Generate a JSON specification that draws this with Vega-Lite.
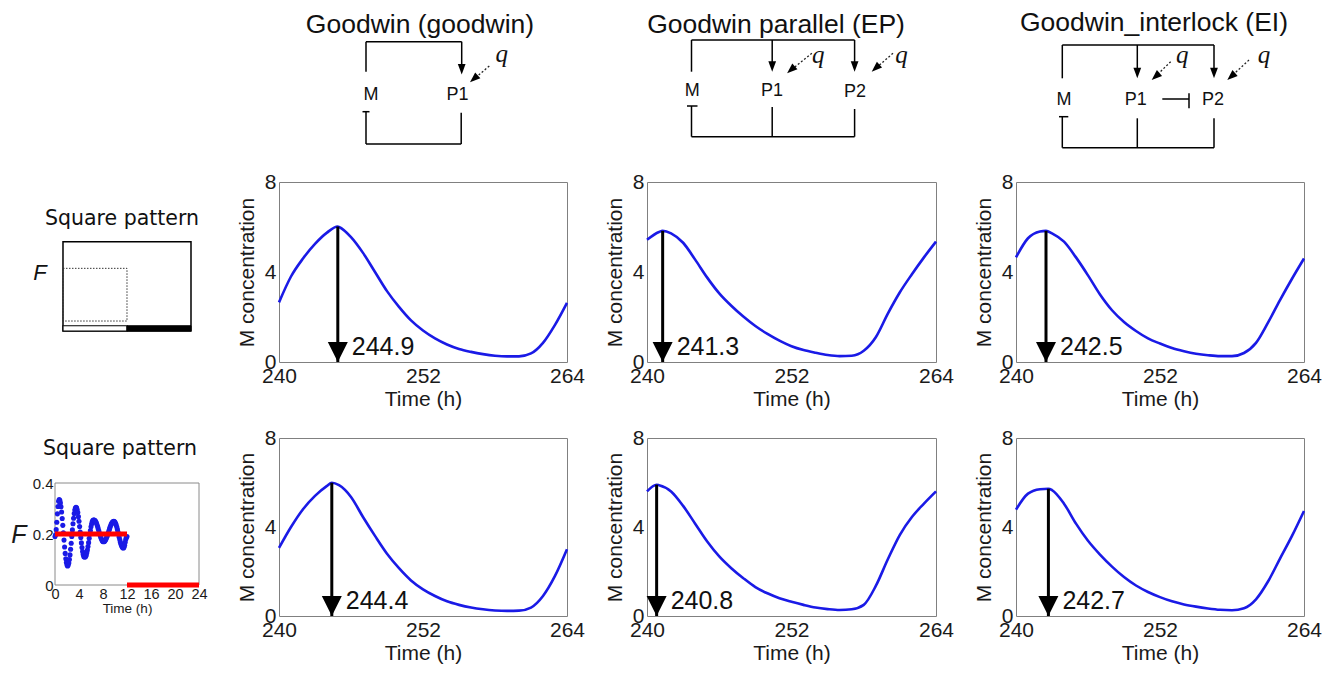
{
"$schema": "https://vega.github.io/schema/vega-lite/v6.json",
"padding": 0,
"background": "white",
"columns": 4,
"spacing": {"row": 76, "column": 80},
"bounds": "flush",
"align": "each",
"datasets": {
"curves": [
{"p":1,"t":240,"m":2.65},{"p":1,"t":241,"m":3.8},{"p":1,"t":242,"m":4.6},{"p":1,"t":243,"m":5.25},{"p":1,"t":244,"m":5.75},{"p":1,"t":244.9,"m":6.02},{"p":1,"t":245,"m":6.0},{"p":1,"t":246,"m":5.55},{"p":1,"t":247,"m":4.85},{"p":1,"t":248,"m":4.0},{"p":1,"t":249,"m":3.15},{"p":1,"t":250,"m":2.45},{"p":1,"t":251,"m":1.85},{"p":1,"t":252,"m":1.4},{"p":1,"t":253,"m":1.05},{"p":1,"t":254,"m":0.78},{"p":1,"t":255,"m":0.58},{"p":1,"t":256,"m":0.45},{"p":1,"t":257,"m":0.35},{"p":1,"t":258,"m":0.28},{"p":1,"t":259,"m":0.25},{"p":1,"t":260,"m":0.25},{"p":1,"t":261,"m":0.38},{"p":1,"t":262,"m":0.85},{"p":1,"t":263,"m":1.65},{"p":1,"t":264,"m":2.63},
{"p":2,"t":240,"m":5.43},{"p":2,"t":241,"m":5.78},{"p":2,"t":241.3,"m":5.83},{"p":2,"t":242,"m":5.72},{"p":2,"t":243,"m":5.3},{"p":2,"t":244,"m":4.55},{"p":2,"t":245,"m":3.75},{"p":2,"t":246,"m":3.05},{"p":2,"t":247,"m":2.5},{"p":2,"t":248,"m":2.02},{"p":2,"t":249,"m":1.6},{"p":2,"t":250,"m":1.25},{"p":2,"t":251,"m":0.95},{"p":2,"t":252,"m":0.7},{"p":2,"t":253,"m":0.53},{"p":2,"t":254,"m":0.41},{"p":2,"t":255,"m":0.31},{"p":2,"t":256,"m":0.26},{"p":2,"t":257,"m":0.28},{"p":2,"t":258,"m":0.5},{"p":2,"t":259,"m":1.1},{"p":2,"t":260,"m":2.15},{"p":2,"t":261,"m":3.1},{"p":2,"t":262,"m":3.9},{"p":2,"t":263,"m":4.65},{"p":2,"t":264,"m":5.35},
{"p":3,"t":240,"m":4.65},{"p":3,"t":241,"m":5.5},{"p":3,"t":242,"m":5.8},{"p":3,"t":242.5,"m":5.83},{"p":3,"t":243,"m":5.72},{"p":3,"t":244,"m":5.35},{"p":3,"t":245,"m":4.65},{"p":3,"t":246,"m":3.85},{"p":3,"t":247,"m":3.0},{"p":3,"t":248,"m":2.3},{"p":3,"t":249,"m":1.78},{"p":3,"t":250,"m":1.38},{"p":3,"t":251,"m":1.05},{"p":3,"t":252,"m":0.82},{"p":3,"t":253,"m":0.62},{"p":3,"t":254,"m":0.48},{"p":3,"t":255,"m":0.37},{"p":3,"t":256,"m":0.3},{"p":3,"t":257,"m":0.26},{"p":3,"t":258,"m":0.26},{"p":3,"t":259,"m":0.4},{"p":3,"t":260,"m":0.85},{"p":3,"t":261,"m":1.75},{"p":3,"t":262,"m":2.75},{"p":3,"t":263,"m":3.7},{"p":3,"t":264,"m":4.6},
{"p":4,"t":240,"m":3.06},{"p":4,"t":241,"m":4.0},{"p":4,"t":242,"m":4.8},{"p":4,"t":243,"m":5.4},{"p":4,"t":244,"m":5.85},{"p":4,"t":244.4,"m":5.99},{"p":4,"t":245,"m":5.88},{"p":4,"t":246,"m":5.35},{"p":4,"t":247,"m":4.45},{"p":4,"t":248,"m":3.6},{"p":4,"t":249,"m":2.8},{"p":4,"t":250,"m":2.15},{"p":4,"t":251,"m":1.6},{"p":4,"t":252,"m":1.2},{"p":4,"t":253,"m":0.9},{"p":4,"t":254,"m":0.66},{"p":4,"t":255,"m":0.5},{"p":4,"t":256,"m":0.38},{"p":4,"t":257,"m":0.3},{"p":4,"t":258,"m":0.25},{"p":4,"t":259,"m":0.23},{"p":4,"t":260,"m":0.24},{"p":4,"t":261,"m":0.38},{"p":4,"t":262,"m":0.9},{"p":4,"t":263,"m":1.8},{"p":4,"t":264,"m":3.0},
{"p":5,"t":240,"m":5.6},{"p":5,"t":240.8,"m":5.9},{"p":5,"t":241,"m":5.88},{"p":5,"t":242,"m":5.6},{"p":5,"t":243,"m":4.95},{"p":5,"t":244,"m":4.15},{"p":5,"t":245,"m":3.35},{"p":5,"t":246,"m":2.68},{"p":5,"t":247,"m":2.15},{"p":5,"t":248,"m":1.7},{"p":5,"t":249,"m":1.3},{"p":5,"t":250,"m":1.02},{"p":5,"t":251,"m":0.8},{"p":5,"t":252,"m":0.64},{"p":5,"t":253,"m":0.5},{"p":5,"t":254,"m":0.38},{"p":5,"t":255,"m":0.31},{"p":5,"t":256,"m":0.27},{"p":5,"t":257,"m":0.3},{"p":5,"t":258,"m":0.5},{"p":5,"t":259,"m":1.35},{"p":5,"t":260,"m":2.55},{"p":5,"t":261,"m":3.65},{"p":5,"t":262,"m":4.45},{"p":5,"t":263,"m":5.05},{"p":5,"t":264,"m":5.6},
{"p":6,"t":240,"m":4.78},{"p":6,"t":241,"m":5.5},{"p":6,"t":242,"m":5.7},{"p":6,"t":242.7,"m":5.72},{"p":6,"t":243,"m":5.66},{"p":6,"t":244,"m":5.05},{"p":6,"t":245,"m":4.15},{"p":6,"t":246,"m":3.38},{"p":6,"t":247,"m":2.76},{"p":6,"t":248,"m":2.22},{"p":6,"t":249,"m":1.75},{"p":6,"t":250,"m":1.37},{"p":6,"t":251,"m":1.08},{"p":6,"t":252,"m":0.85},{"p":6,"t":253,"m":0.66},{"p":6,"t":254,"m":0.52},{"p":6,"t":255,"m":0.42},{"p":6,"t":256,"m":0.34},{"p":6,"t":257,"m":0.28},{"p":6,"t":258,"m":0.26},{"p":6,"t":259,"m":0.35},{"p":6,"t":260,"m":0.75},{"p":6,"t":261,"m":1.55},{"p":6,"t":262,"m":2.58},{"p":6,"t":263,"m":3.6},{"p":6,"t":264,"m":4.72}
],
"peaks": [
{"p":1,"t":244.9,"m":6.02,"label":"244.9"},
{"p":2,"t":241.3,"m":5.83,"label":"241.3"},
{"p":3,"t":242.5,"m":5.83,"label":"242.5"},
{"p":4,"t":244.4,"m":5.99,"label":"244.4"},
{"p":5,"t":240.8,"m":5.9,"label":"240.8"},
{"p":6,"t":242.7,"m":5.72,"label":"242.7"}
],
"forcing": [
{"t":0,"F":0.19},{"t":0.1,"F":0.197},{"t":0.2,"F":0.217},{"t":0.3,"F":0.246},{"t":0.4,"F":0.279},{"t":0.5,"F":0.308},{"t":0.6,"F":0.328},{"t":0.7,"F":0.335},{"t":0.8,"F":0.332},{"t":0.9,"F":0.322},
{"t":1.0,"F":0.307},{"t":1.1,"F":0.286},{"t":1.2,"F":0.261},{"t":1.3,"F":0.234},{"t":1.4,"F":0.205},{"t":1.5,"F":0.176},{"t":1.6,"F":0.149},{"t":1.7,"F":0.124},{"t":1.8,"F":0.103},{"t":1.9,"F":0.088},
{"t":2.0,"F":0.078},{"t":2.1,"F":0.075},{"t":2.2,"F":0.078},{"t":2.3,"F":0.086},{"t":2.4,"F":0.1},{"t":2.5,"F":0.118},{"t":2.6,"F":0.14},{"t":2.7,"F":0.164},{"t":2.8,"F":0.19},{"t":2.9,"F":0.216},
{"t":3.0,"F":0.24},{"t":3.1,"F":0.262},{"t":3.2,"F":0.28},{"t":3.3,"F":0.294},{"t":3.4,"F":0.302},{"t":3.5,"F":0.305},{"t":3.6,"F":0.303},{"t":3.7,"F":0.295},{"t":3.8,"F":0.284},{"t":3.9,"F":0.268},
{"t":4.0,"F":0.25},{"t":4.1,"F":0.229},{"t":4.2,"F":0.208},{"t":4.3,"F":0.186},{"t":4.4,"F":0.165},{"t":4.5,"F":0.147},{"t":4.6,"F":0.131},{"t":4.7,"F":0.12},{"t":4.8,"F":0.112},{"t":4.9,"F":0.11},
{"t":5.0,"F":0.11},{"t":5.1,"F":0.112},{"t":5.2,"F":0.117},{"t":5.3,"F":0.126},{"t":5.4,"F":0.137},{"t":5.5,"F":0.151},{"t":5.6,"F":0.166},{"t":5.7,"F":0.183},{"t":5.8,"F":0.199},{"t":5.9,"F":0.214},
{"t":6.0,"F":0.228},{"t":6.1,"F":0.239},{"t":6.2,"F":0.248},{"t":6.3,"F":0.253},{"t":6.4,"F":0.255},{"t":6.5,"F":0.255},{"t":6.6,"F":0.254},{"t":6.7,"F":0.252},{"t":6.8,"F":0.248},{"t":6.9,"F":0.243},
{"t":7.0,"F":0.236},{"t":7.1,"F":0.229},{"t":7.2,"F":0.221},{"t":7.3,"F":0.213},{"t":7.4,"F":0.204},{"t":7.5,"F":0.196},{"t":7.6,"F":0.189},{"t":7.7,"F":0.182},{"t":7.8,"F":0.177},{"t":7.9,"F":0.173},
{"t":8.0,"F":0.171},{"t":8.1,"F":0.17},{"t":8.2,"F":0.171},{"t":8.3,"F":0.173},{"t":8.4,"F":0.176},{"t":8.5,"F":0.18},{"t":8.6,"F":0.186},{"t":8.7,"F":0.192},{"t":8.8,"F":0.199},{"t":8.9,"F":0.206},
{"t":9.0,"F":0.214},{"t":9.1,"F":0.221},{"t":9.2,"F":0.228},{"t":9.3,"F":0.234},{"t":9.4,"F":0.24},{"t":9.5,"F":0.244},{"t":9.6,"F":0.247},{"t":9.7,"F":0.249},{"t":9.8,"F":0.25},{"t":9.9,"F":0.249},
{"t":10.0,"F":0.246},{"t":10.1,"F":0.241},{"t":10.2,"F":0.235},{"t":10.3,"F":0.227},{"t":10.4,"F":0.218},{"t":10.5,"F":0.208},{"t":10.6,"F":0.198},{"t":10.7,"F":0.187},{"t":10.8,"F":0.177},{"t":10.9,"F":0.168},
{"t":11.0,"F":0.16},{"t":11.1,"F":0.154},{"t":11.2,"F":0.149},{"t":11.3,"F":0.146},{"t":11.4,"F":0.145},{"t":11.5,"F":0.148},{"t":11.6,"F":0.156},{"t":11.7,"F":0.168},{"t":11.8,"F":0.179},{"t":11.9,"F":0.187},
{"t":12.0,"F":0.19}
],
"forcingLevels": [
{"t":0,"t2":12,"F":0.2},
{"t":12,"t2":24,"F":0}
],
"forcingText": [
{"t":10.83,"F":0.535,"label":"Square pattern"}
],
"schematic": [
{"part":"frame","x":0,"x2":24,"y":0,"y2":1},
{"part":"window","x":0,"x2":12,"y":0.112,"y2":0.702},
{"part":"bar-light","x":0,"x2":12,"y":0,"y2":0.059},
{"part":"bar-dark","x":12,"x2":24,"y":0,"y2":0.059},
{"part":"symbol","x":-4.3,"y":0.646,"label":"F"},
{"part":"caption","x":11.06,"y":1.26,"label":"Square pattern"}
],
"diagram": [
{"net":1,"kind":"title","x":14.1,"y":3.33,"label":"Goodwin (goodwin)"},
{"net":1,"kind":"wire","x":8.7,"y":4.17,"x2":18.27,"y2":4.17},
{"net":1,"kind":"wire","x":8.7,"y":4.17,"x2":8.7,"y2":7.17},
{"net":1,"kind":"wire","x":18.27,"y":4.17,"x2":18.27,"y2":7.0},
{"net":1,"kind":"wire","x":8.35,"y":11.17,"x2":9.05,"y2":11.17},
{"net":1,"kind":"wire","x":8.7,"y":11.17,"x2":8.7,"y2":14.4},
{"net":1,"kind":"wire","x":8.7,"y":14.4,"x2":18.22,"y2":14.4},
{"net":1,"kind":"wire","x":18.22,"y":14.4,"x2":18.22,"y2":11.27},
{"net":1,"kind":"head","x":18.27,"y":7.45},
{"net":1,"kind":"q","x":21.03,"y":6.6,"x2":19.87,"y2":7.59},
{"net":1,"kind":"qhead","x":19.1,"y":8.23},
{"net":1,"kind":"qlabel","x":22.27,"y":6.15,"label":"q"},
{"net":1,"kind":"node","x":9.2,"y":9.5,"label":"M"},
{"net":1,"kind":"node","x":17.85,"y":9.5,"label":"P1"},
{"net":2,"kind":"title","x":12.9,"y":3.33,"label":"Goodwin parallel (EP)"},
{"net":2,"kind":"wire","x":4.45,"y":4.0,"x2":20.76,"y2":4.0},
{"net":2,"kind":"wire","x":4.45,"y":4.0,"x2":4.45,"y2":7.17},
{"net":2,"kind":"wire","x":12.52,"y":4.0,"x2":12.52,"y2":6.8},
{"net":2,"kind":"wire","x":20.76,"y":4.0,"x2":20.76,"y2":6.8},
{"net":2,"kind":"wire","x":4.0,"y":10.6,"x2":5.05,"y2":10.6},
{"net":2,"kind":"wire","x":4.45,"y":10.6,"x2":4.45,"y2":13.67},
{"net":2,"kind":"wire","x":4.45,"y":13.67,"x2":20.76,"y2":13.67},
{"net":2,"kind":"wire","x":12.52,"y":13.67,"x2":12.52,"y2":10.7},
{"net":2,"kind":"wire","x":20.76,"y":13.67,"x2":20.76,"y2":10.9},
{"net":2,"kind":"head","x":12.52,"y":7.17},
{"net":2,"kind":"head","x":20.76,"y":7.17},
{"net":2,"kind":"q","x":16.49,"y":5.33,"x2":14.79,"y2":6.7},
{"net":2,"kind":"qhead","x":14.01,"y":7.33},
{"net":2,"kind":"q","x":24.6,"y":5.33,"x2":23.23,"y2":6.52},
{"net":2,"kind":"qhead","x":22.47,"y":7.17},
{"net":2,"kind":"qlabel","x":17.13,"y":6.3,"label":"q"},
{"net":2,"kind":"qlabel","x":25.46,"y":6.3,"label":"q"},
{"net":2,"kind":"node","x":4.53,"y":9.08,"label":"M"},
{"net":2,"kind":"node","x":12.5,"y":9.08,"label":"P1"},
{"net":2,"kind":"node","x":20.8,"y":9.2,"label":"P2"},
{"net":3,"kind":"title","x":13.8,"y":3.05,"label":"Goodwin_interlock (EI)"},
{"net":3,"kind":"wire","x":4.63,"y":4.5,"x2":19.8,"y2":4.5},
{"net":3,"kind":"wire","x":4.63,"y":4.5,"x2":4.63,"y2":7.83},
{"net":3,"kind":"wire","x":12.13,"y":4.5,"x2":12.13,"y2":7.45},
{"net":3,"kind":"wire","x":19.8,"y":4.5,"x2":19.8,"y2":7.45},
{"net":3,"kind":"wire","x":14.63,"y":9.9,"x2":17.3,"y2":9.9},
{"net":3,"kind":"wire","x":17.3,"y":9.33,"x2":17.3,"y2":10.83},
{"net":3,"kind":"wire","x":4.3,"y":11.67,"x2":5.23,"y2":11.67},
{"net":3,"kind":"wire","x":4.63,"y":11.67,"x2":4.63,"y2":14.77},
{"net":3,"kind":"wire","x":4.63,"y":14.77,"x2":19.8,"y2":14.77},
{"net":3,"kind":"wire","x":12.13,"y":14.77,"x2":12.13,"y2":11.83},
{"net":3,"kind":"wire","x":19.8,"y":14.77,"x2":19.8,"y2":11.83},
{"net":3,"kind":"head","x":12.13,"y":7.83},
{"net":3,"kind":"head","x":19.8,"y":7.83},
{"net":3,"kind":"q","x":15.47,"y":6.17,"x2":14.29,"y2":7.31},
{"net":3,"kind":"qhead","x":13.57,"y":8.0},
{"net":3,"kind":"q","x":23.3,"y":6.0,"x2":21.87,"y2":7.32},
{"net":3,"kind":"qhead","x":21.13,"y":8.0},
{"net":3,"kind":"qlabel","x":16.63,"y":6.3,"label":"q"},
{"net":3,"kind":"qlabel","x":24.8,"y":6.3,"label":"q"},
{"net":3,"kind":"node","x":4.8,"y":10.0,"label":"M"},
{"net":3,"kind":"node","x":11.97,"y":10.0,"label":"P1"},
{"net":3,"kind":"node","x":19.7,"y":10.0,"label":"P2"}
]
},
"concat": [
{"width":199,"height":106,"view":{"stroke":null},"data":{"values":[]},"mark":"point","encoding":{}},
{"width":288,"height":106,"view":{"stroke":null},"data":{"name":"diagram"},"transform":[{"filter":"datum.net == 1"}],
 "encoding":{"x":{"field":"x","type":"quantitative","scale":{"domain":[0,28.8],"nice":false,"zero":false},"axis":null},"y":{"field":"y","type":"quantitative","scale":{"domain":[0,10.6],"nice":false,"zero":false,"reverse":true},"axis":null}},
 "layer":[
  {"transform":[{"filter":"datum.kind == 'wire'"}],"mark":{"type":"rule","color":"#000","strokeWidth":1.5},"encoding":{"x2":{"field":"x2"},"y2":{"field":"y2"}}},
  {"transform":[{"filter":"datum.kind == 'q'"}],"mark":{"type":"rule","color":"#222","strokeWidth":1.3,"strokeDash":[2,2]},"encoding":{"x2":{"field":"x2"},"y2":{"field":"y2"}}},
  {"transform":[{"filter":"datum.kind == 'head'"}],"mark":{"type":"point","shape":"M-1,-2.7L1,-2.7L0,0Z","size":60,"filled":true,"color":"#000","opacity":1}},
  {"transform":[{"filter":"datum.kind == 'qhead'"}],"mark":{"type":"point","shape":"M-1,-2.7L1,-2.7L0,0Z","size":60,"filled":true,"color":"#000","opacity":1,"angle":48}},
  {"transform":[{"filter":"datum.kind == 'node'"}],"mark":{"type":"text","fontSize":18,"baseline":"middle","align":"center","color":"#111"},"encoding":{"text":{"field":"label"}}},
  {"transform":[{"filter":"datum.kind == 'qlabel'"}],"mark":{"type":"text","font":"Liberation Serif","fontStyle":"italic","fontSize":25,"baseline":"alphabetic","align":"center","color":"#111"},"encoding":{"text":{"field":"label"}}},
  {"transform":[{"filter":"datum.kind == 'title'"}],"mark":{"type":"text","fontSize":26.5,"baseline":"alphabetic","align":"center","color":"#111"},"encoding":{"text":{"field":"label"}}}
 ]},
{"width":289,"height":106,"view":{"stroke":null},"data":{"name":"diagram"},"transform":[{"filter":"datum.net == 2"}],
 "encoding":{"x":{"field":"x","type":"quantitative","scale":{"domain":[0,28.9],"nice":false,"zero":false},"axis":null},"y":{"field":"y","type":"quantitative","scale":{"domain":[0,10.6],"nice":false,"zero":false,"reverse":true},"axis":null}},
 "layer":[
  {"transform":[{"filter":"datum.kind == 'wire'"}],"mark":{"type":"rule","color":"#000","strokeWidth":1.5},"encoding":{"x2":{"field":"x2"},"y2":{"field":"y2"}}},
  {"transform":[{"filter":"datum.kind == 'q'"}],"mark":{"type":"rule","color":"#222","strokeWidth":1.3,"strokeDash":[2,2]},"encoding":{"x2":{"field":"x2"},"y2":{"field":"y2"}}},
  {"transform":[{"filter":"datum.kind == 'head'"}],"mark":{"type":"point","shape":"M-1,-2.7L1,-2.7L0,0Z","size":60,"filled":true,"color":"#000","opacity":1}},
  {"transform":[{"filter":"datum.kind == 'qhead'"}],"mark":{"type":"point","shape":"M-1,-2.7L1,-2.7L0,0Z","size":60,"filled":true,"color":"#000","opacity":1,"angle":48}},
  {"transform":[{"filter":"datum.kind == 'node'"}],"mark":{"type":"text","fontSize":18,"baseline":"middle","align":"center","color":"#111"},"encoding":{"text":{"field":"label"}}},
  {"transform":[{"filter":"datum.kind == 'qlabel'"}],"mark":{"type":"text","font":"Liberation Serif","fontStyle":"italic","fontSize":25,"baseline":"alphabetic","align":"center","color":"#111"},"encoding":{"text":{"field":"label"}}},
  {"transform":[{"filter":"datum.kind == 'title'"}],"mark":{"type":"text","fontSize":26.5,"baseline":"alphabetic","align":"center","color":"#111"},"encoding":{"text":{"field":"label"}}}
 ]},
{"width":288,"height":106,"view":{"stroke":null},"data":{"name":"diagram"},"transform":[{"filter":"datum.net == 3"}],
 "encoding":{"x":{"field":"x","type":"quantitative","scale":{"domain":[0,28.8],"nice":false,"zero":false},"axis":null},"y":{"field":"y","type":"quantitative","scale":{"domain":[0,10.6],"nice":false,"zero":false,"reverse":true},"axis":null}},
 "layer":[
  {"transform":[{"filter":"datum.kind == 'wire'"}],"mark":{"type":"rule","color":"#000","strokeWidth":1.5},"encoding":{"x2":{"field":"x2"},"y2":{"field":"y2"}}},
  {"transform":[{"filter":"datum.kind == 'q'"}],"mark":{"type":"rule","color":"#222","strokeWidth":1.3,"strokeDash":[2,2]},"encoding":{"x2":{"field":"x2"},"y2":{"field":"y2"}}},
  {"transform":[{"filter":"datum.kind == 'head'"}],"mark":{"type":"point","shape":"M-1,-2.7L1,-2.7L0,0Z","size":60,"filled":true,"color":"#000","opacity":1}},
  {"transform":[{"filter":"datum.kind == 'qhead'"}],"mark":{"type":"point","shape":"M-1,-2.7L1,-2.7L0,0Z","size":60,"filled":true,"color":"#000","opacity":1,"angle":48}},
  {"transform":[{"filter":"datum.kind == 'node'"}],"mark":{"type":"text","fontSize":18,"baseline":"middle","align":"center","color":"#111"},"encoding":{"text":{"field":"label"}}},
  {"transform":[{"filter":"datum.kind == 'qlabel'"}],"mark":{"type":"text","font":"Liberation Serif","fontStyle":"italic","fontSize":25,"baseline":"alphabetic","align":"center","color":"#111"},"encoding":{"text":{"field":"label"}}},
  {"transform":[{"filter":"datum.kind == 'title'"}],"mark":{"type":"text","fontSize":26.5,"baseline":"alphabetic","align":"center","color":"#111"},"encoding":{"text":{"field":"label"}}}
 ]},
{"width":199,"height":180,"view":{"stroke":null},"data":{"name":"schematic"},
 "encoding":{"x":{"field":"x","type":"quantitative","scale":{"domain":[-11.81,25.5],"nice":false,"zero":false},"axis":null},"y":{"field":"y","type":"quantitative","scale":{"domain":[-0.347,1.669],"nice":false,"zero":false},"axis":null}},
 "layer":[
  {"transform":[{"filter":"datum.part == 'frame'"}],"mark":{"type":"rect","fill":"#fff","fillOpacity":0,"stroke":"#000","strokeWidth":1.5},"encoding":{"x2":{"field":"x2"},"y2":{"field":"y2"}}},
  {"transform":[{"filter":"datum.part == 'window'"}],"mark":{"type":"rect","fill":"#fff","fillOpacity":0,"stroke":"#333","strokeWidth":1,"strokeDash":[1.5,1.5]},"encoding":{"x2":{"field":"x2"},"y2":{"field":"y2"}}},
  {"transform":[{"filter":"datum.part == 'bar-light'"}],"mark":{"type":"rect","fill":"#fff","stroke":"#000","strokeWidth":1.2},"encoding":{"x2":{"field":"x2"},"y2":{"field":"y2"}}},
  {"transform":[{"filter":"datum.part == 'bar-dark'"}],"mark":{"type":"rect","fill":"#000","stroke":"#000","strokeWidth":1},"encoding":{"x2":{"field":"x2"},"y2":{"field":"y2"}}},
  {"transform":[{"filter":"datum.part == 'symbol'"}],"mark":{"type":"text","fontSize":22,"fontStyle":"italic","baseline":"middle","align":"center","color":"#111"},"encoding":{"text":{"field":"label"}}},
  {"transform":[{"filter":"datum.part == 'caption'"}],"mark":{"type":"text","font":"DejaVu Sans","fontSize":20.5,"baseline":"middle","align":"center","color":"#111"},"encoding":{"text":{"field":"label"}}}
 ]},
{"width":288,"height":180,
 "layer":[
  {"data":{"name":"curves"},"transform":[{"filter":"datum.p == 1"}],"mark":{"type":"line","color":"#1a1ae6","strokeWidth":2.6,"interpolate":"monotone"},
   "encoding":{"x":{"field":"t","type":"quantitative","title":"Time (h)","scale":{"domain":[240,264],"nice":false,"zero":false},"axis":{"values":[240,252,264]}},"y":{"field":"m","type":"quantitative","title":"M concentration","scale":{"domain":[0,8],"nice":false},"axis":{"values":[0,4,8]}}}},
  {"data":{"name":"peaks"},"transform":[{"filter":"datum.p == 1"}],"mark":{"type":"rule","color":"#000","strokeWidth":3},
   "encoding":{"x":{"field":"t","type":"quantitative","title":"Time (h)"},"y":{"field":"m","type":"quantitative","title":"M concentration"},"y2":{"datum":0}}},
  {"data":{"name":"peaks"},"transform":[{"filter":"datum.p == 1"}],"mark":{"type":"point","shape":"M-1,-2L1,-2L0,0Z","size":400,"filled":true,"color":"#000","opacity":1},
   "encoding":{"x":{"field":"t","type":"quantitative","title":"Time (h)"},"y":{"datum":0,"title":"M concentration"}}},
  {"data":{"name":"peaks"},"transform":[{"filter":"datum.p == 1"}],"mark":{"type":"text","align":"left","baseline":"alphabetic","dx":14,"dy":-7,"fontSize":25,"color":"#111"},
   "encoding":{"x":{"field":"t","type":"quantitative","title":"Time (h)"},"y":{"datum":0,"title":"M concentration"},"text":{"field":"label"}}}
 ]},
{"width":289,"height":180,
 "layer":[
  {"data":{"name":"curves"},"transform":[{"filter":"datum.p == 2"}],"mark":{"type":"line","color":"#1a1ae6","strokeWidth":2.6,"interpolate":"monotone"},
   "encoding":{"x":{"field":"t","type":"quantitative","title":"Time (h)","scale":{"domain":[240,264],"nice":false,"zero":false},"axis":{"values":[240,252,264]}},"y":{"field":"m","type":"quantitative","title":"M concentration","scale":{"domain":[0,8],"nice":false},"axis":{"values":[0,4,8]}}}},
  {"data":{"name":"peaks"},"transform":[{"filter":"datum.p == 2"}],"mark":{"type":"rule","color":"#000","strokeWidth":3},
   "encoding":{"x":{"field":"t","type":"quantitative","title":"Time (h)"},"y":{"field":"m","type":"quantitative","title":"M concentration"},"y2":{"datum":0}}},
  {"data":{"name":"peaks"},"transform":[{"filter":"datum.p == 2"}],"mark":{"type":"point","shape":"M-1,-2L1,-2L0,0Z","size":400,"filled":true,"color":"#000","opacity":1},
   "encoding":{"x":{"field":"t","type":"quantitative","title":"Time (h)"},"y":{"datum":0,"title":"M concentration"}}},
  {"data":{"name":"peaks"},"transform":[{"filter":"datum.p == 2"}],"mark":{"type":"text","align":"left","baseline":"alphabetic","dx":14,"dy":-7,"fontSize":25,"color":"#111"},
   "encoding":{"x":{"field":"t","type":"quantitative","title":"Time (h)"},"y":{"datum":0,"title":"M concentration"},"text":{"field":"label"}}}
 ]},
{"width":288,"height":180,
 "layer":[
  {"data":{"name":"curves"},"transform":[{"filter":"datum.p == 3"}],"mark":{"type":"line","color":"#1a1ae6","strokeWidth":2.6,"interpolate":"monotone"},
   "encoding":{"x":{"field":"t","type":"quantitative","title":"Time (h)","scale":{"domain":[240,264],"nice":false,"zero":false},"axis":{"values":[240,252,264]}},"y":{"field":"m","type":"quantitative","title":"M concentration","scale":{"domain":[0,8],"nice":false},"axis":{"values":[0,4,8]}}}},
  {"data":{"name":"peaks"},"transform":[{"filter":"datum.p == 3"}],"mark":{"type":"rule","color":"#000","strokeWidth":3},
   "encoding":{"x":{"field":"t","type":"quantitative","title":"Time (h)"},"y":{"field":"m","type":"quantitative","title":"M concentration"},"y2":{"datum":0}}},
  {"data":{"name":"peaks"},"transform":[{"filter":"datum.p == 3"}],"mark":{"type":"point","shape":"M-1,-2L1,-2L0,0Z","size":400,"filled":true,"color":"#000","opacity":1},
   "encoding":{"x":{"field":"t","type":"quantitative","title":"Time (h)"},"y":{"datum":0,"title":"M concentration"}}},
  {"data":{"name":"peaks"},"transform":[{"filter":"datum.p == 3"}],"mark":{"type":"text","align":"left","baseline":"alphabetic","dx":14,"dy":-7,"fontSize":25,"color":"#111"},
   "encoding":{"x":{"field":"t","type":"quantitative","title":"Time (h)"},"y":{"datum":0,"title":"M concentration"},"text":{"field":"label"}}}
 ]},
{"width":199,"height":178,"view":{"stroke":null},
 "layer":[
  {"data":{"name":"forcingText"},"mark":{"type":"rect","fill":"#fff","fillOpacity":0,"stroke":"#8a8a8a","strokeWidth":1},
   "encoding":{"x":{"datum":0,"type":"quantitative","title":"Time (h)","scale":{"domain":[0,24],"range":[55,199],"nice":false,"zero":false},"axis":{"values":[0,4,8,12,16,20,24],"offset":-31,"labelFontSize":14.5,"labelPadding":2,"labelOverlap":false,"labelSeparation":0,"labelFlush":false,"titleFontSize":13.5,"titlePadding":1}},"x2":{"datum":24},
               "y":{"datum":0,"type":"quantitative","title":"F","scale":{"domain":[0,0.4],"range":[147,45],"nice":false,"zero":false},"axis":{"values":[0,0.2,0.4],"format":"~g","offset":-55,"labelFontSize":15,"labelPadding":2,"labelOverlap":false,"titleAngle":0,"titleFontStyle":"italic","titleFontSize":25,"titleAlign":"right","titleBaseline":"middle","titlePadding":6}},"y2":{"datum":0.4}}},
  {"data":{"name":"forcing"},"mark":{"type":"circle","size":26,"color":"#1a1ae6","opacity":1},
   "encoding":{"x":{"field":"t","type":"quantitative","title":"Time (h)",
                    "axis":{"values":[0,4,8,12,16,20,24],"offset":-31,"labelFontSize":14.5,"labelPadding":2,"labelOverlap":false,"labelSeparation":0,"labelFlush":false,"titleFontSize":13.5,"titlePadding":1}},
               "y":{"field":"F","type":"quantitative","title":"F",
                    "axis":{"values":[0,0.2,0.4],"format":"~g","offset":-55,"labelFontSize":15,"labelPadding":2,"labelOverlap":false,"titleAngle":0,"titleFontStyle":"italic","titleFontSize":25,"titleAlign":"right","titleBaseline":"middle","titlePadding":6}}}},
  {"data":{"name":"forcingLevels"},"mark":{"type":"rule","color":"#ff0000","strokeWidth":5},
   "encoding":{"x":{"field":"t","type":"quantitative","title":"Time (h)","axis":{"values":[0,4,8,12,16,20,24],"offset":-31,"labelFontSize":14.5,"labelPadding":2,"labelOverlap":false,"labelSeparation":0,"labelFlush":false,"titleFontSize":13.5,"titlePadding":1}},"x2":{"field":"t2"},
               "y":{"field":"F","type":"quantitative","title":"F","axis":{"values":[0,0.2,0.4],"format":"~g","offset":-55,"labelFontSize":15,"labelPadding":2,"labelOverlap":false,"titleAngle":0,"titleFontStyle":"italic","titleFontSize":25,"titleAlign":"right","titleBaseline":"middle","titlePadding":6}}}},
  {"data":{"name":"forcingText"},"mark":{"type":"text","font":"DejaVu Sans","fontSize":20.5,"baseline":"middle","align":"center","color":"#111"},
   "encoding":{"x":{"field":"t","type":"quantitative","title":"Time (h)","axis":{"values":[0,4,8,12,16,20,24],"offset":-31,"labelFontSize":14.5,"labelPadding":2,"labelOverlap":false,"labelSeparation":0,"labelFlush":false,"titleFontSize":13.5,"titlePadding":1}},
               "y":{"field":"F","type":"quantitative","title":"F","axis":{"values":[0,0.2,0.4],"format":"~g","offset":-55,"labelFontSize":15,"labelPadding":2,"labelOverlap":false,"titleAngle":0,"titleFontStyle":"italic","titleFontSize":25,"titleAlign":"right","titleBaseline":"middle","titlePadding":6}},"text":{"field":"label"}}}
 ]},
{"width":288,"height":178,
 "layer":[
  {"data":{"name":"curves"},"transform":[{"filter":"datum.p == 4"}],"mark":{"type":"line","color":"#1a1ae6","strokeWidth":2.6,"interpolate":"monotone"},
   "encoding":{"x":{"field":"t","type":"quantitative","title":"Time (h)","scale":{"domain":[240,264],"nice":false,"zero":false},"axis":{"values":[240,252,264]}},"y":{"field":"m","type":"quantitative","title":"M concentration","scale":{"domain":[0,8],"nice":false},"axis":{"values":[0,4,8]}}}},
  {"data":{"name":"peaks"},"transform":[{"filter":"datum.p == 4"}],"mark":{"type":"rule","color":"#000","strokeWidth":3},
   "encoding":{"x":{"field":"t","type":"quantitative","title":"Time (h)"},"y":{"field":"m","type":"quantitative","title":"M concentration"},"y2":{"datum":0}}},
  {"data":{"name":"peaks"},"transform":[{"filter":"datum.p == 4"}],"mark":{"type":"point","shape":"M-1,-2L1,-2L0,0Z","size":400,"filled":true,"color":"#000","opacity":1},
   "encoding":{"x":{"field":"t","type":"quantitative","title":"Time (h)"},"y":{"datum":0,"title":"M concentration"}}},
  {"data":{"name":"peaks"},"transform":[{"filter":"datum.p == 4"}],"mark":{"type":"text","align":"left","baseline":"alphabetic","dx":14,"dy":-7,"fontSize":25,"color":"#111"},
   "encoding":{"x":{"field":"t","type":"quantitative","title":"Time (h)"},"y":{"datum":0,"title":"M concentration"},"text":{"field":"label"}}}
 ]},
{"width":289,"height":178,
 "layer":[
  {"data":{"name":"curves"},"transform":[{"filter":"datum.p == 5"}],"mark":{"type":"line","color":"#1a1ae6","strokeWidth":2.6,"interpolate":"monotone"},
   "encoding":{"x":{"field":"t","type":"quantitative","title":"Time (h)","scale":{"domain":[240,264],"nice":false,"zero":false},"axis":{"values":[240,252,264]}},"y":{"field":"m","type":"quantitative","title":"M concentration","scale":{"domain":[0,8],"nice":false},"axis":{"values":[0,4,8]}}}},
  {"data":{"name":"peaks"},"transform":[{"filter":"datum.p == 5"}],"mark":{"type":"rule","color":"#000","strokeWidth":3},
   "encoding":{"x":{"field":"t","type":"quantitative","title":"Time (h)"},"y":{"field":"m","type":"quantitative","title":"M concentration"},"y2":{"datum":0}}},
  {"data":{"name":"peaks"},"transform":[{"filter":"datum.p == 5"}],"mark":{"type":"point","shape":"M-1,-2L1,-2L0,0Z","size":400,"filled":true,"color":"#000","opacity":1},
   "encoding":{"x":{"field":"t","type":"quantitative","title":"Time (h)"},"y":{"datum":0,"title":"M concentration"}}},
  {"data":{"name":"peaks"},"transform":[{"filter":"datum.p == 5"}],"mark":{"type":"text","align":"left","baseline":"alphabetic","dx":14,"dy":-7,"fontSize":25,"color":"#111"},
   "encoding":{"x":{"field":"t","type":"quantitative","title":"Time (h)"},"y":{"datum":0,"title":"M concentration"},"text":{"field":"label"}}}
 ]},
{"width":288,"height":178,
 "layer":[
  {"data":{"name":"curves"},"transform":[{"filter":"datum.p == 6"}],"mark":{"type":"line","color":"#1a1ae6","strokeWidth":2.6,"interpolate":"monotone"},
   "encoding":{"x":{"field":"t","type":"quantitative","title":"Time (h)","scale":{"domain":[240,264],"nice":false,"zero":false},"axis":{"values":[240,252,264]}},"y":{"field":"m","type":"quantitative","title":"M concentration","scale":{"domain":[0,8],"nice":false},"axis":{"values":[0,4,8]}}}},
  {"data":{"name":"peaks"},"transform":[{"filter":"datum.p == 6"}],"mark":{"type":"rule","color":"#000","strokeWidth":3},
   "encoding":{"x":{"field":"t","type":"quantitative","title":"Time (h)"},"y":{"field":"m","type":"quantitative","title":"M concentration"},"y2":{"datum":0}}},
  {"data":{"name":"peaks"},"transform":[{"filter":"datum.p == 6"}],"mark":{"type":"point","shape":"M-1,-2L1,-2L0,0Z","size":400,"filled":true,"color":"#000","opacity":1},
   "encoding":{"x":{"field":"t","type":"quantitative","title":"Time (h)"},"y":{"datum":0,"title":"M concentration"}}},
  {"data":{"name":"peaks"},"transform":[{"filter":"datum.p == 6"}],"mark":{"type":"text","align":"left","baseline":"alphabetic","dx":14,"dy":-7,"fontSize":25,"color":"#111"},
   "encoding":{"x":{"field":"t","type":"quantitative","title":"Time (h)"},"y":{"datum":0,"title":"M concentration"},"text":{"field":"label"}}}
 ]}
],
"config": {
 "font": "Liberation Sans",
 "view": {"stroke": "#808080", "strokeWidth": 1},
 "text": {"font": "Liberation Sans"},
 "axis": {"grid": false, "ticks": false, "domain": false, "labelFont": "Liberation Sans", "labelFontSize": 21, "labelColor": "#1a1a1a", "titleFont": "Liberation Sans", "titleFontSize": 21, "titleFontWeight": "normal", "titleColor": "#1a1a1a", "labelFlush": false, "labelOverlap": false, "labelPadding": 3},
 "axisX": {"titlePadding": 2},
 "axisY": {"titlePadding": 7}
}
}
